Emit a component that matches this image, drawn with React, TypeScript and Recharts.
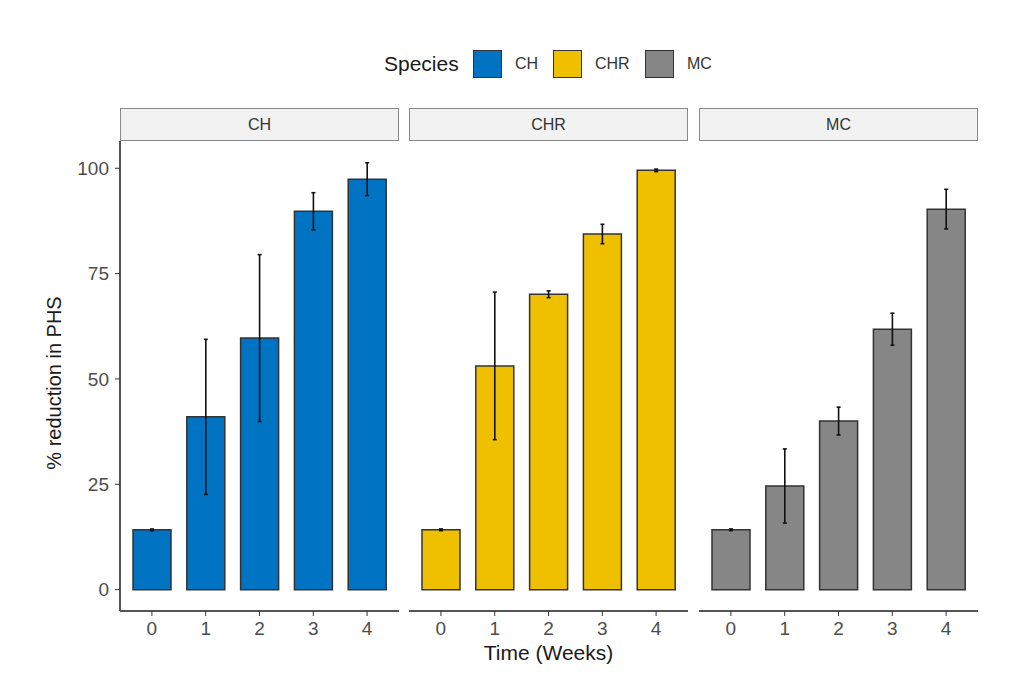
import React from 'react';
import { BarChart, Bar, XAxis, YAxis, ErrorBar } from 'recharts';

const weeks = ['0', '1', '2', '3', '4'];
const species = ['CH', 'CHR', 'MC'];

const chMean = [14.2, 41.0, 59.7, 89.8, 97.4];
const chSd = [0.2, 18.4, 19.8, 4.4, 3.9];
const chrMean = [14.2, 53.1, 70.1, 84.4, 99.5];
const chrSd = [0.2, 17.5, 0.8, 2.3, 0.3];
const mcMean = [14.2, 24.6, 40.0, 61.8, 90.3];
const mcSd = [0.2, 8.8, 3.3, 3.8, 4.7];

const yTicks = [0, 25, 50, 75, 100];
const colors = ['#0073C2', '#EFC000', '#868686'];

const means = [chMean, chrMean, mcMean];
const sds = [chSd, chrSd, mcSd];

// ggplot-like panel geometry
const panelX = [120, 409, 699];
const panelW = 279;
const plotTop = 141;
const plotBottom = 611;
const H = 680;

// legend key positions
const keyX = [473, 553, 645];

const FONT = '"Liberation Sans", Arial, sans-serif';
const TICK = { fill: '#4d4d4d', fontSize: 19, fontFamily: FONT };

const Panel = ({ idx }: { idx: number }) => {
  const data = weeks.map((w, i) => ({ week: w, value: means[idx][i], sd: sds[idx][i] }));
  const first = idx === 0;
  const yW = 60;
  const xH = 40;
  const left = first ? 0 : panelX[idx] - 10;
  const width = first ? panelX[0] + panelW + 2 : panelW + 20;
  return (
    <div style={{ position: 'absolute', left, top: 0 }}>
      <BarChart
        width={width}
        height={H}
        data={data}
        margin={{
          top: plotTop,
          bottom: H - plotBottom - xH,
          left: first ? panelX[0] - yW : 10,
          right: first ? 2 : 10,
        }}
      >
        <XAxis
          dataKey="week"
          height={xH}
          padding={{ left: 5, right: 5 }}
          tick={TICK}
          tickSize={5}
          tickMargin={6}
          axisLine={{ stroke: '#555', strokeWidth: 2 }}
          tickLine={{ stroke: '#333' }}
        />
        <YAxis
          type="number"
          domain={[-5.07, 106.47]}
          ticks={yTicks}
          allowDataOverflow
          hide={!first}
          width={yW}
          tick={TICK}
          tickSize={5}
          tickMargin={6}
          axisLine={{ stroke: '#555', strokeWidth: 2 }}
          tickLine={{ stroke: '#333' }}
        />
        <Bar
          dataKey="value"
          fill={colors[idx]}
          stroke="#333"
          strokeWidth={1.5}
          barSize={38}
          isAnimationActive={false}
        >
          <ErrorBar dataKey="sd" width={2} stroke="#111" strokeWidth={1.6} />
        </Bar>
      </BarChart>
    </div>
  );
};

export default function App() {
  return (
    <div
      style={{
        position: 'absolute',
        left: 0,
        top: 0,
        width: 1011,
        height: H,
        background: '#fff',
        fontFamily: FONT,
        overflow: 'hidden',
      }}
    >
      {/* legend */}
      <div
        style={{
          position: 'absolute',
          left: 384,
          top: 50,
          height: 28,
          lineHeight: '28px',
          fontSize: 21,
          color: '#1a1a1a',
        }}
      >
        Species
      </div>
      {species.map((s, i) => (
        <React.Fragment key={s}>
          <div
            style={{
              position: 'absolute',
              left: keyX[i],
              top: 50,
              width: 29,
              height: 28,
              boxSizing: 'border-box',
              background: colors[i],
              border: '1.5px solid #333',
            }}
          />
          <div
            style={{
              position: 'absolute',
              left: keyX[i] + 42,
              top: 50,
              height: 28,
              lineHeight: '28px',
              fontSize: 16,
              color: '#333',
            }}
          >
            {s}
          </div>
        </React.Fragment>
      ))}

      {/* facet strips */}
      {species.map((s, i) => (
        <div
          key={s}
          style={{
            position: 'absolute',
            left: panelX[i],
            top: 108,
            width: panelW,
            height: 33,
            boxSizing: 'border-box',
            background: '#f2f2f2',
            border: '1.5px solid #888',
            display: 'flex',
            alignItems: 'center',
            justifyContent: 'center',
            fontSize: 16,
            color: '#333',
          }}
        >
          {s}
        </div>
      ))}

      {[0, 1, 2].map((i) => (
        <Panel key={i} idx={i} />
      ))}

      {/* axis titles */}
      <div
        style={{
          position: 'absolute',
          left: 409,
          width: panelW,
          top: 641,
          textAlign: 'center',
          fontSize: 21,
          color: '#1a1a1a',
        }}
      >
        Time (Weeks)
      </div>
      <div
        style={{
          position: 'absolute',
          left: 54,
          top: 383,
          transform: 'translate(-50%, -50%) rotate(-90deg)',
          whiteSpace: 'nowrap',
          fontSize: 20,
          color: '#1a1a1a',
        }}
      >
        % reduction in PHS
      </div>
    </div>
  );
}
